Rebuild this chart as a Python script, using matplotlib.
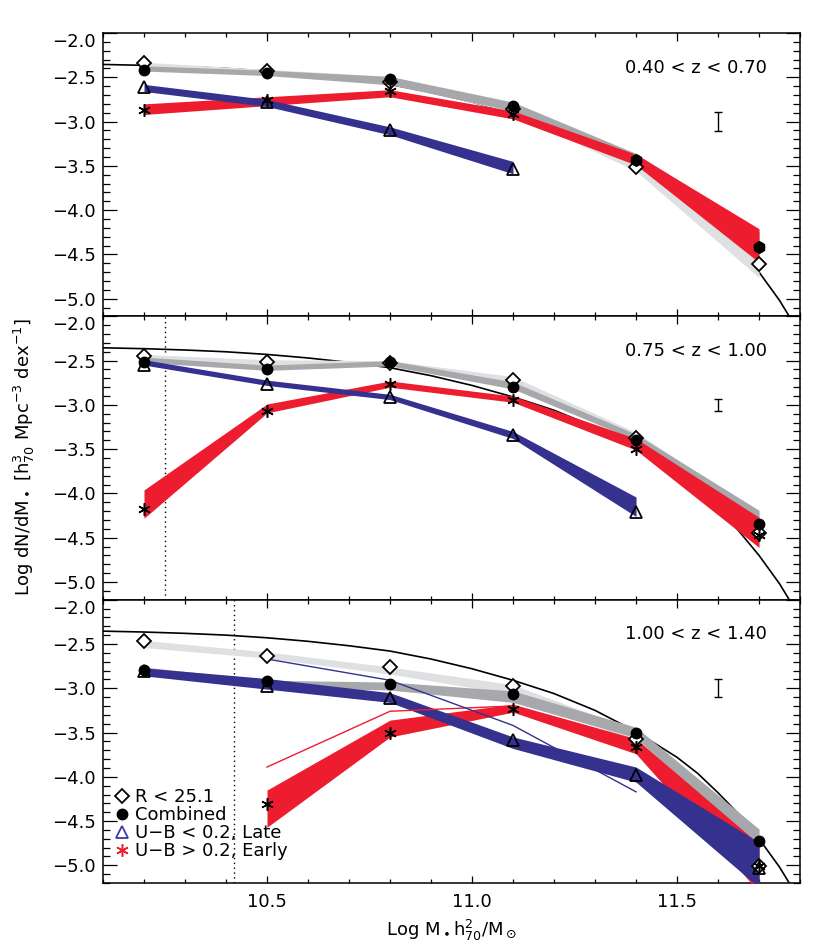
import numpy as np
import matplotlib.pyplot as plt
from matplotlib.lines import Line2D
from matplotlib.ticker import MultipleLocator

nan = np.nan

# stellar mass bins (log M h70^2 / Msun)
mass = [10.2, 10.5, 10.8, 11.1, 11.4, 11.7]
z_bins = ["0.40 < z < 0.70", "0.75 < z < 1.00", "1.00 < z < 1.40"]
yticks = [-5.0, -4.5, -4.0, -3.5, -3.0, -2.5, -2.0]

# points, one row per redshift bin
r251 = [[-2.34, -2.43, -2.55, -2.86, -3.51, -4.61],
        [-2.45, -2.52, -2.53, -2.72, -3.37, -4.45],
        [-2.47, -2.64, -2.76, -2.98, -3.57, -5.01]]
combined = [[-2.42, -2.45, -2.52, -2.82, -3.43, -4.42],
            [-2.52, -2.59, -2.52, -2.80, -3.40, -4.34],
            [-2.79, -2.92, -2.95, -3.06, -3.50, -4.72]]
late = [[-2.61, -2.78, -3.10, -3.54, nan, nan],
        [-2.55, -2.76, -2.91, -3.34, -4.21, nan],
        [-2.81, -2.98, -3.11, -3.58, -3.98, -5.03]]
early = [[-2.87, -2.76, -2.66, -2.92, -3.43, -4.42],
         [-4.17, -3.07, -2.76, -2.94, -3.50, -4.47],
         [nan, -4.31, -3.50, -3.23, -3.66, -5.01]]

# shaded ranges
r251_hi = [[-2.33, -2.41, -2.49, -2.82, -3.45, -4.56],
           [-2.43, -2.49, -2.50, -2.68, -3.31, -4.22],
           [-2.46, -2.59, -2.76, -2.96, -3.48, -4.72]]
r251_lo = [[-2.40, -2.46, -2.56, -2.90, -3.56, -4.76],
           [-2.50, -2.58, -2.55, -2.76, -3.38, -4.30],
           [-2.54, -2.66, -2.84, -3.07, -3.60, -4.85]]
comb_hi = [[-2.37, -2.42, -2.49, -2.78, -3.36, -4.25],
           [-2.46, -2.55, -2.50, -2.74, -3.33, -4.19],
           [-2.76, -2.91, -2.93, -3.03, -3.44, -4.59]]
comb_lo = [[-2.43, -2.48, -2.585, -2.88, -3.42, -4.45],
           [-2.52, -2.61, -2.56, -2.82, -3.40, -4.30],
           [-2.82, -2.99, -3.02, -3.16, -3.56, -4.79]]
early_hi = [[-2.80, -2.72, -2.64, -2.88, -3.37, -4.21],
            [-3.96, -2.99, -2.73, -2.90, -3.38, -4.27],
            [nan, -4.15, -3.36, -3.18, -3.57, -4.76]]
early_lo = [[-2.92, -2.82, -2.72, -2.97, -3.49, -4.59],
            [-4.28, -3.09, -2.80, -2.97, -3.51, -4.61],
            [nan, -4.57, -3.55, -3.27, -3.74, -5.30]]
late_hi = [[-2.58, -2.75, -3.06, -3.45, nan, nan],
           [-2.49, -2.72, -2.88, -3.30, -4.04, nan],
           [-2.77, -2.89, -3.05, -3.55, -3.89, -4.74]]
late_lo = [[-2.66, -2.83, -3.15, -3.59, nan, nan],
           [-2.55, -2.78, -2.94, -3.38, -4.26, nan],
           [-2.86, -3.01, -3.16, -3.68, -4.06, -5.25]]

# thin lines, last bin only
early_thin = [nan, -3.89, -3.26, -3.20, nan, nan]
late_thin = [nan, -2.67, -2.91, -3.42, -4.17, nan]

# local mass function
lmf_mass = [10.10, 10.20, 10.30, 10.40, 10.50, 10.60, 10.70, 10.80, 10.90,
            11.00, 11.10, 11.20, 11.30, 11.40, 11.50, 11.55, 11.60, 11.65,
            11.70, 11.75, 11.80]
lmf_phi = [-2.355, -2.365, -2.38, -2.40, -2.43, -2.47, -2.52, -2.58, -2.67,
           -2.78, -2.91, -3.06, -3.25, -3.49, -3.78, -3.96, -4.18, -4.42,
           -4.70, -5.02, -5.40]

# typical error and completeness limit
err_mass = 11.6
err_center = -3.0
err_half = [0.105, 0.07, 0.10]
limit_mass = [nan, 10.25, 10.42]

LGRAY = "#dfe0e2"
DGRAY = "#a6a8ab"
RED = "#ed1c2e"
BLUE = "#35318f"
FS = 13

fig, axes = plt.subplots(3, 1, figsize=(8.3, 9.49), dpi=100, sharex=True)
fig.subplots_adjust(left=0.1241, right=0.9639, top=0.9652, bottom=0.0695, hspace=0)

for i, ax in enumerate(axes):
    ax.plot(lmf_mass, lmf_phi, color="k", lw=1.2, zorder=1)

    ax.fill_between(mass, r251_lo[i], r251_hi[i], color=LGRAY, lw=0, zorder=2)
    ax.fill_between(mass, comb_lo[i], comb_hi[i], color=DGRAY, lw=0, zorder=3)
    ax.fill_between(mass, early_lo[i], early_hi[i], color=RED, lw=0, zorder=4)
    ax.fill_between(mass, late_lo[i], late_hi[i], color=BLUE, lw=0, zorder=5)

    if i == 2:
        ax.plot(mass, early_thin, color=RED, lw=1, zorder=6)
        ax.plot(mass, late_thin, color=BLUE, lw=1, zorder=6)

    ax.plot(mass, r251[i], ls="none", marker="D", ms=6.8, mfc="white",
            mec="k", mew=1.3, zorder=7)
    ax.plot(mass, combined[i], ls="none", marker="o", ms=7.5, color="k", zorder=8)
    ax.plot(mass, late[i], ls="none", marker="^", ms=8.5, mfc="none",
            mec="k", mew=1.3, zorder=9)
    ax.plot(mass, early[i], ls="none", marker=(6, 2, 0), ms=9, color="k",
            mew=1.1, zorder=10)

    ax.errorbar([err_mass], [err_center], yerr=[err_half[i]], fmt="none",
                ecolor="k", elinewidth=1, capsize=3, capthick=1)

    if not np.isnan(limit_mass[i]):
        ax.axvline(limit_mass[i], color="k", lw=1, ls=(0, (1, 2.5)), zorder=1)

    ax.text(0.952, 0.878, z_bins[i], transform=ax.transAxes, ha="right",
            va="center", fontsize=FS)

    ax.set_xlim(10.1, 11.8)
    ax.set_ylim(-5.2, -2.0)
    ax.set_yticks(yticks)
    ax.xaxis.set_major_locator(MultipleLocator(0.5))
    ax.xaxis.set_minor_locator(MultipleLocator(0.1))
    ax.yaxis.set_minor_locator(MultipleLocator(0.1))
    ax.tick_params(which="both", direction="in", top=True, right=True,
                   width=0.9, labelsize=FS)
    ax.tick_params(axis="y", which="major", length=10, pad=5)
    ax.tick_params(axis="y", which="minor", length=5)
    ax.tick_params(axis="x", which="major", length=5.4, pad=7)
    ax.tick_params(axis="x", which="minor", length=3.2)
    for sp in ax.spines.values():
        sp.set_linewidth(1.1)
    # push the top label down so it clears the panel above
    ax.yaxis.get_major_ticks()[-1].label1.set_verticalalignment("top")

handles = [
    Line2D([], [], ls="none", marker="D", ms=6.8, mfc="white", mec="k", mew=1.3),
    Line2D([], [], ls="none", marker="o", ms=7.5, color="k"),
    Line2D([], [], ls="none", marker="^", ms=8.5, mfc="none", mec="#3b3ba6", mew=1.3),
    Line2D([], [], ls="none", marker=(6, 2, 0), ms=9, color=RED, mew=1.1),
]
labels = ["R < 25.1", "Combined", "U\u2212B < 0.2, Late", "U\u2212B > 0.2, Early"]
axes[2].legend(handles, labels, loc="lower left", bbox_to_anchor=(0.0168, 0.08),
               frameon=False, fontsize=FS, handlelength=0.8, handletextpad=0.3,
               labelspacing=0.0, borderpad=0, borderaxespad=0)

fig.text(0.030, 1 - 457 / 949, r"Log dN/dM$_\bullet$ [h$_{70}^{3}$ Mpc$^{-3}$ dex$^{-1}$]",
         rotation=90, ha="center", va="center", fontsize=FS)
fig.text(451.5 / 830, 1 - 930 / 949, r"Log M$_\bullet$h$_{70}^{2}$/M$_\odot$",
         ha="center", va="center", fontsize=FS)

fig.savefig("out.png", dpi=100)
